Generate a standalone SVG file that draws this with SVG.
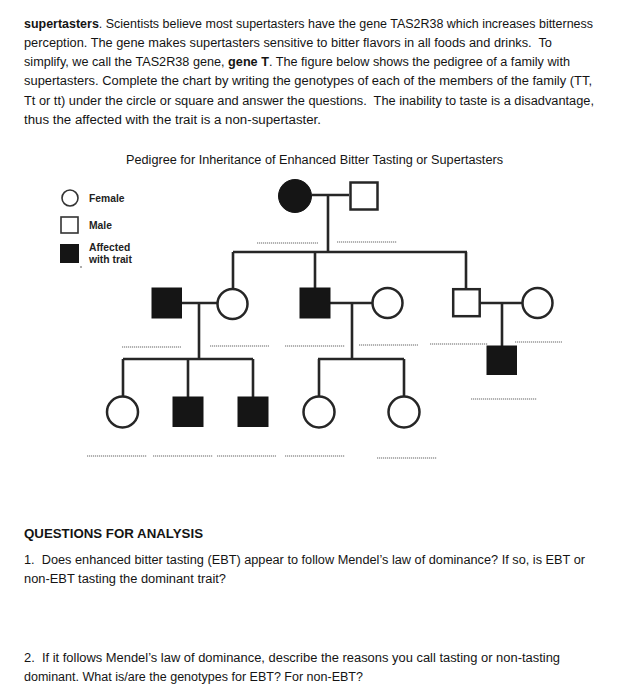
<svg xmlns="http://www.w3.org/2000/svg" width="635" height="700" viewBox="0 0 635 700">
<style>
.t{font-family:"Liberation Sans",Arial,sans-serif;font-size:12.5px;fill:#141414;white-space:pre}
.b{font-weight:bold}
.lg{font-family:"Liberation Sans",Arial,sans-serif;font-size:10.3px;font-weight:bold;fill:#222}
.ln{stroke:#262626;stroke-width:2.6;fill:none;stroke-linecap:butt}
.o{fill:#fff;stroke:#262626;stroke-width:2.5}
.ol{fill:#fff;stroke:#333;stroke-width:1.6}
.f{fill:#151515;stroke:#151515;stroke-width:1}
.d{stroke:#666;stroke-width:1.2;stroke-dasharray:1.2 0.8;fill:none}
</style>
<rect width="635" height="700" fill="#fff"/>

<g id="intro">
<text class="t" x="24" y="27.5" textLength="569" lengthAdjust="spacingAndGlyphs"><tspan class="b">supertasters</tspan>. Scientists believe most supertasters have the gene TAS2R38 which increases bitterness</text>
<text class="t" x="24" y="46.8" textLength="528" lengthAdjust="spacingAndGlyphs">perception. The gene makes supertasters sensitive to bitter flavors in all foods and drinks.  To</text>
<text class="t" x="24" y="66.1" textLength="546" lengthAdjust="spacingAndGlyphs">simplify, we call the TAS2R38 gene, <tspan class="b">gene T</tspan>. The figure below shows the pedigree of a family with</text>
<text class="t" x="24" y="85.4" textLength="568" lengthAdjust="spacingAndGlyphs">supertasters. Complete the chart by writing the genotypes of each of the members of the family (TT,</text>
<text class="t" x="24" y="104.7" textLength="570" lengthAdjust="spacingAndGlyphs">Tt or tt) under the circle or square and answer the questions.  The inability to taste is a disadvantage,</text>
<text class="t" x="24" y="124" textLength="297" lengthAdjust="spacingAndGlyphs">thus the affected with the trait is a non-supertaster.</text>
</g>

<text id="title" class="t" x="126" y="164" textLength="377" lengthAdjust="spacingAndGlyphs">Pedigree for Inheritance of Enhanced Bitter Tasting or Supertasters</text>

<g id="legend">
<circle class="ol" cx="70" cy="198" r="8"/>
<text class="lg" x="89" y="202">Female</text>
<rect class="ol" x="61" y="217" width="17" height="16"/>
<text class="lg" x="89" y="229">Male</text>
<rect class="f" x="60.5" y="244.5" width="18" height="18"/>
<text class="lg" x="89" y="251">Affected</text>
<text class="lg" x="89" y="263">with trait</text>
<circle cx="81" cy="267" r="0.8" fill="#444"/>
</g>

<g id="connectors">
<path class="ln" d="M312 195H349M328 195V252M233 252H467M233 252V288M315 252V288M466 252V288"/>
<path class="ln" d="M181 303H217M199 303V359M123 359H253M123 359V396M188 359V397M253 359V397"/>
<path class="ln" d="M330 303H372M352 303V359M318 359H404M319 359V396M404 359V396"/>
<path class="ln" d="M480 303H522M502 303V346"/>
</g>

<g id="gen1-mother"><circle class="f" cx="295" cy="196" r="16.5"/></g>
<g id="gen1-father"><rect class="o" x="350.5" y="182.5" width="27" height="27"/></g>

<g id="gen2-son1"><rect class="f" x="152" y="288" width="29.5" height="30"/></g>
<g id="gen2-wife1"><circle class="o" cx="232.5" cy="304" r="15"/></g>
<g id="gen2-son2"><rect class="f" x="300" y="288" width="30" height="30"/></g>
<g id="gen2-wife2"><circle class="o" cx="387.5" cy="303" r="15"/></g>
<g id="gen2-son3"><rect class="o" x="453.2" y="289.2" width="26.5" height="27"/></g>
<g id="gen2-wife3"><circle class="o" cx="537.5" cy="303" r="15"/></g>

<g id="gen3-c1"><circle class="o" cx="122.5" cy="412" r="15.5"/></g>
<g id="gen3-c2"><rect class="f" x="173" y="397" width="30" height="29.5"/></g>
<g id="gen3-c3"><rect class="f" x="238" y="397" width="30" height="29.5"/></g>
<g id="gen3-c4"><circle class="o" cx="319" cy="412" r="15.5"/></g>
<g id="gen3-c5"><circle class="o" cx="404" cy="412" r="15.5"/></g>
<g id="gen3-c6"><rect class="f" x="487" y="346" width="29.5" height="28.5"/></g>

<g id="blanks">
<path class="d" d="M257 243H318M337 242H397"/>
<path class="d" d="M122 347H181M210 346H269M285 346H345M359 345H418M430 344H488M515 342H562"/>
<path class="d" d="M87 456H147M153 456H213M217 456H276M285 456H345M377 458H437M471 399H537"/>
</g>

<g id="questions">
<text class="t b" x="24" y="538" style="font-size:13.5px" textLength="179" lengthAdjust="spacingAndGlyphs">QUESTIONS FOR ANALYSIS</text>
<text class="t" x="24" y="564" textLength="561" lengthAdjust="spacingAndGlyphs">1.  Does enhanced bitter tasting (EBT) appear to follow Mendel’s law of dominance? If so, is EBT or</text>
<text class="t" x="24" y="582.5" textLength="202" lengthAdjust="spacingAndGlyphs">non-EBT tasting the dominant trait?</text>
<text class="t" x="24" y="662" textLength="536" lengthAdjust="spacingAndGlyphs">2.  If it follows Mendel’s law of dominance, describe the reasons you call tasting or non-tasting</text>
<text class="t" x="24" y="681" textLength="339" lengthAdjust="spacingAndGlyphs">dominant. What is/are the genotypes for EBT? For non-EBT?</text>
</g>
</svg>
